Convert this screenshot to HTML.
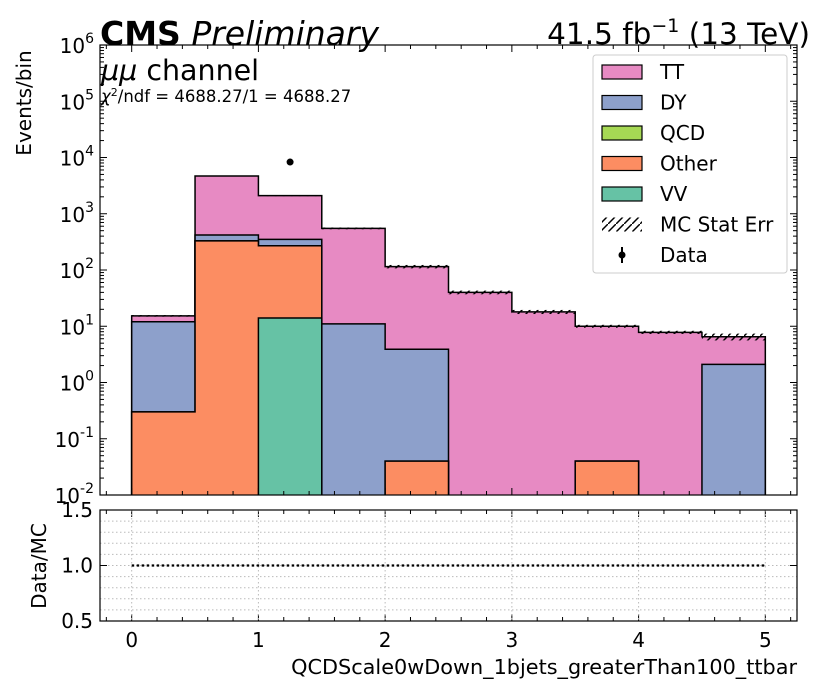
<!DOCTYPE html>
<html><head><meta charset="utf-8"><style>
body{margin:0;background:#fff}
svg text{font-family:"DejaVu Sans","Liberation Sans",sans-serif;fill:#000}
</style></head><body>
<svg id="c" width="826" height="694" xmlns="http://www.w3.org/2000/svg"></svg>
<script>
const binEdges=[0,0.5,1,1.5,2,2.5,3,3.5,4,4.5,5];
const vv=[0,0,14,0,0,0,0,0,0,0];
const other=[0.3,330,256,0,0.04,0,0,0.04,0,0];
const qcd=[0,0,0,0,0,0,0,0,0,0];
const dy=[11.7,90,80,11,3.86,0,0,0,0,2.1];
const tt=[3.3,4280,1750,539,111,40,18,9.96,7.8,4.4];
const statErr=[0.5,60,40,20,8,3,1.5,0.6,0.5,0.9];
const dataX=[1.25];
const dataY=[8300];
const ratioVals=[1,1,1,1,1,1,1,1,1,1];
const xTicks=[0,1,2,3,4,5];
const yExp=[-2,-1,0,1,2,3,4,5,6];
const rTicks=[0.5,1.0,1.5];

const NS="http://www.w3.org/2000/svg",svg=document.getElementById('c');
function mk(t,a,p){const e=document.createElementNS(NS,t);for(const k in a)e.setAttribute(k,a[k]);(p||svg).appendChild(e);return e;}
const L=100,R=797,T=45,B=495,RT=510,RB=621;
const X=v=>L+(v+0.25)/5.5*(R-L);
const Y=v=>{v=Math.max(v,1e-3);return B-(Math.log10(v)+2)/8*(B-T);};
const YR=v=>RB-(v-0.5)/1.0*(RB-RT);
const defs=mk('defs',{});
const pat=mk('pattern',{id:'h',width:8,height:8,patternUnits:'userSpaceOnUse'},defs);
mk('path',{d:'M0,8 L8,0',stroke:'#000','stroke-width':1.5},pat);
const cp=mk('clipPath',{id:'cp'},defs);mk('rect',{x:L,y:T,width:R-L,height:B-T},cp);
const g=mk('g',{'clip-path':'url(#cp)'});
const series=[['vv',vv,'#66c2a5'],['other',other,'#fc8d62'],['qcd',qcd,'#a6d854'],['dy',dy,'#8da0cb'],['tt',tt,'#e78ac3']];
const levels=[];let cum=new Array(10).fill(0);
series.forEach(([n,arr,col])=>{cum=cum.map((c,i)=>c+arr[i]);levels.push([n,cum.slice(),col]);});
for(let k=levels.length-1;k>=0;k--){
 const [n,lv,col]=levels[k];
 let d='M'+X(binEdges[0])+','+(B+5);
 for(let i=0;i<10;i++){d+=' L'+X(binEdges[i])+','+Y(lv[i])+' L'+X(binEdges[i+1])+','+Y(lv[i]);}
 d+=' L'+X(binEdges[10])+','+(B+5)+' Z';
 const p=mk('path',{d:d,fill:col,stroke:'#000','stroke-width':1.5},g);
 
 
}
const tot=levels[levels.length-1][1];
for(let i=0;i<10;i++){
 const r=mk('rect',{x:X(binEdges[i]),y:Y(tot[i]+statErr[i]),width:X(binEdges[i+1])-X(binEdges[i]),height:Y(tot[i]-statErr[i])-Y(tot[i]+statErr[i]),fill:'url(#h)',stroke:'none'},g);
 
 
}
dataX.forEach((x,i)=>{const c=mk('circle',{cx:X(x),cy:Y(dataY[i]),r:3.5,fill:'#000'});
 });
mk('rect',{x:L,y:T,width:R-L,height:B-T,fill:'none',stroke:'#000','stroke-width':1.2,});
yExp.forEach(e=>{const y=Y(Math.pow(10,e));
 mk('line',{x1:L,x2:L+7,y1:y,y2:y,stroke:'#000'});mk('line',{x1:R,x2:R-7,y1:y,y2:y,stroke:'#000'});
 const t=mk('text',{x:L-6,y:y+8,'text-anchor':'end','font-size':20});t.innerHTML='10<tspan dy="-10" font-size="14">'+e+'</tspan>';
 
 if(e<6)for(let m=2;m<10;m++){const ym=Y(m*Math.pow(10,e));mk('line',{x1:L,x2:L+4,y1:ym,y2:ym,stroke:'#000'});mk('line',{x1:R,x2:R-4,y1:ym,y2:ym,stroke:'#000'});}
});
for(let v=-0.2;v<=5.21;v+=0.2){const x=X(v);const maj=Math.abs(v-Math.round(v))<1e-6;
 [[B,B-(maj?7:4)],[T,T+(maj?7:4)],[RB,RB-(maj?7:4)],[RT,RT+(maj?7:4)]].forEach(([a,b])=>mk('line',{x1:x,x2:x,y1:a,y2:b,stroke:'#000'}));}
for(let v=0.6;v<1.45;v+=0.1){mk('line',{x1:L,x2:R,y1:YR(v),y2:YR(v),stroke:'#bbb','stroke-dasharray':'1.5,2.5'});}
xTicks.forEach(v=>mk('line',{x1:X(v),x2:X(v),y1:RT,y2:RB,stroke:'#bbb','stroke-dasharray':'1.5,2.5'}));
const rp=mk('polyline',{points:ratioVals.map((v,i)=>X(binEdges[i])+','+YR(v)+' '+X(binEdges[i+1])+','+YR(v)).join(' '),fill:'none',stroke:'#000','stroke-width':2.2,'stroke-dasharray':'2.5,2.5'});

mk('rect',{x:L,y:RT,width:R-L,height:RB-RT,fill:'none',stroke:'#000','stroke-width':1.2,});
rTicks.forEach(v=>{mk('line',{x1:L,x2:L+7,y1:YR(v),y2:YR(v),stroke:'#000'});mk('line',{x1:R,x2:R-7,y1:YR(v),y2:YR(v),stroke:'#000'});
 const t=mk('text',{x:L-7,y:YR(v)+7,'text-anchor':'end','font-size':20});t.textContent=v.toFixed(1);
 });
xTicks.forEach(v=>{const t=mk('text',{x:X(v),y:647,'text-anchor':'middle','font-size':20});t.textContent=v;
 });
const lg=mk('g',{});
mk('rect',{x:593,y:55,width:194,height:218,rx:3,fill:'#fff',stroke:'#ccc'},lg);
const le=[['TT','#e78ac3'],['DY','#8da0cb'],['QCD','#a6d854'],['Other','#fc8d62'],['VV','#66c2a5'],['MC Stat Err','hatch'],['Data','data']];
le.forEach(([n,c],i)=>{const y=72+i*30.5;const e=mk('g',{},lg);
 if(c==='hatch')mk('rect',{x:602,y:y-7,width:40,height:14,fill:'url(#h)'},e);
 else if(c==='data'){mk('circle',{cx:622,cy:y,r:3.5,fill:'#000'},e);mk('line',{x1:622,x2:622,y1:y-8,y2:y+8,stroke:'#000','stroke-width':2},e);}
 else mk('rect',{x:602,y:y-7,width:40,height:14,fill:c,stroke:'#000','stroke-width':1.2},e);
 const t=mk('text',{x:660,y:y+7,'font-size':20},e);t.textContent=n;});
let t=mk('text',{x:100,y:45,'font-size':33});t.innerHTML='<tspan font-weight="bold">CMS</tspan> <tspan font-style="italic">Preliminary</tspan>';
t=mk('text',{x:810,y:44,'font-size':29.5,'text-anchor':'end'});t.innerHTML='41.5 fb<tspan dy="-12" font-size="19">−1</tspan><tspan dy="12"> (13 TeV)</tspan>';
t=mk('text',{x:101,y:80,'font-size':28.5});t.innerHTML='<tspan font-style="italic">μμ</tspan> channel';
t=mk('text',{x:101,y:102,'font-size':16.5});t.innerHTML='<tspan font-style="italic">χ</tspan><tspan dy="-6" font-size="11">2</tspan><tspan dy="6">/ndf = 4688.27/1 = 4688.27</tspan>';
t=mk('text',{x:31,y:103,'font-size':20,'text-anchor':'middle',transform:'rotate(-90 31 103)'});t.textContent='Events/bin';
t=mk('text',{x:46,y:566,'font-size':20,'text-anchor':'middle',transform:'rotate(-90 46 566)'});t.textContent='Data/MC';
t=mk('text',{x:797,y:674,'font-size':20.8,'text-anchor':'end'});t.textContent='QCDScale0wDown_1bjets_greaterThan100_ttbar';
</script></body></html>
